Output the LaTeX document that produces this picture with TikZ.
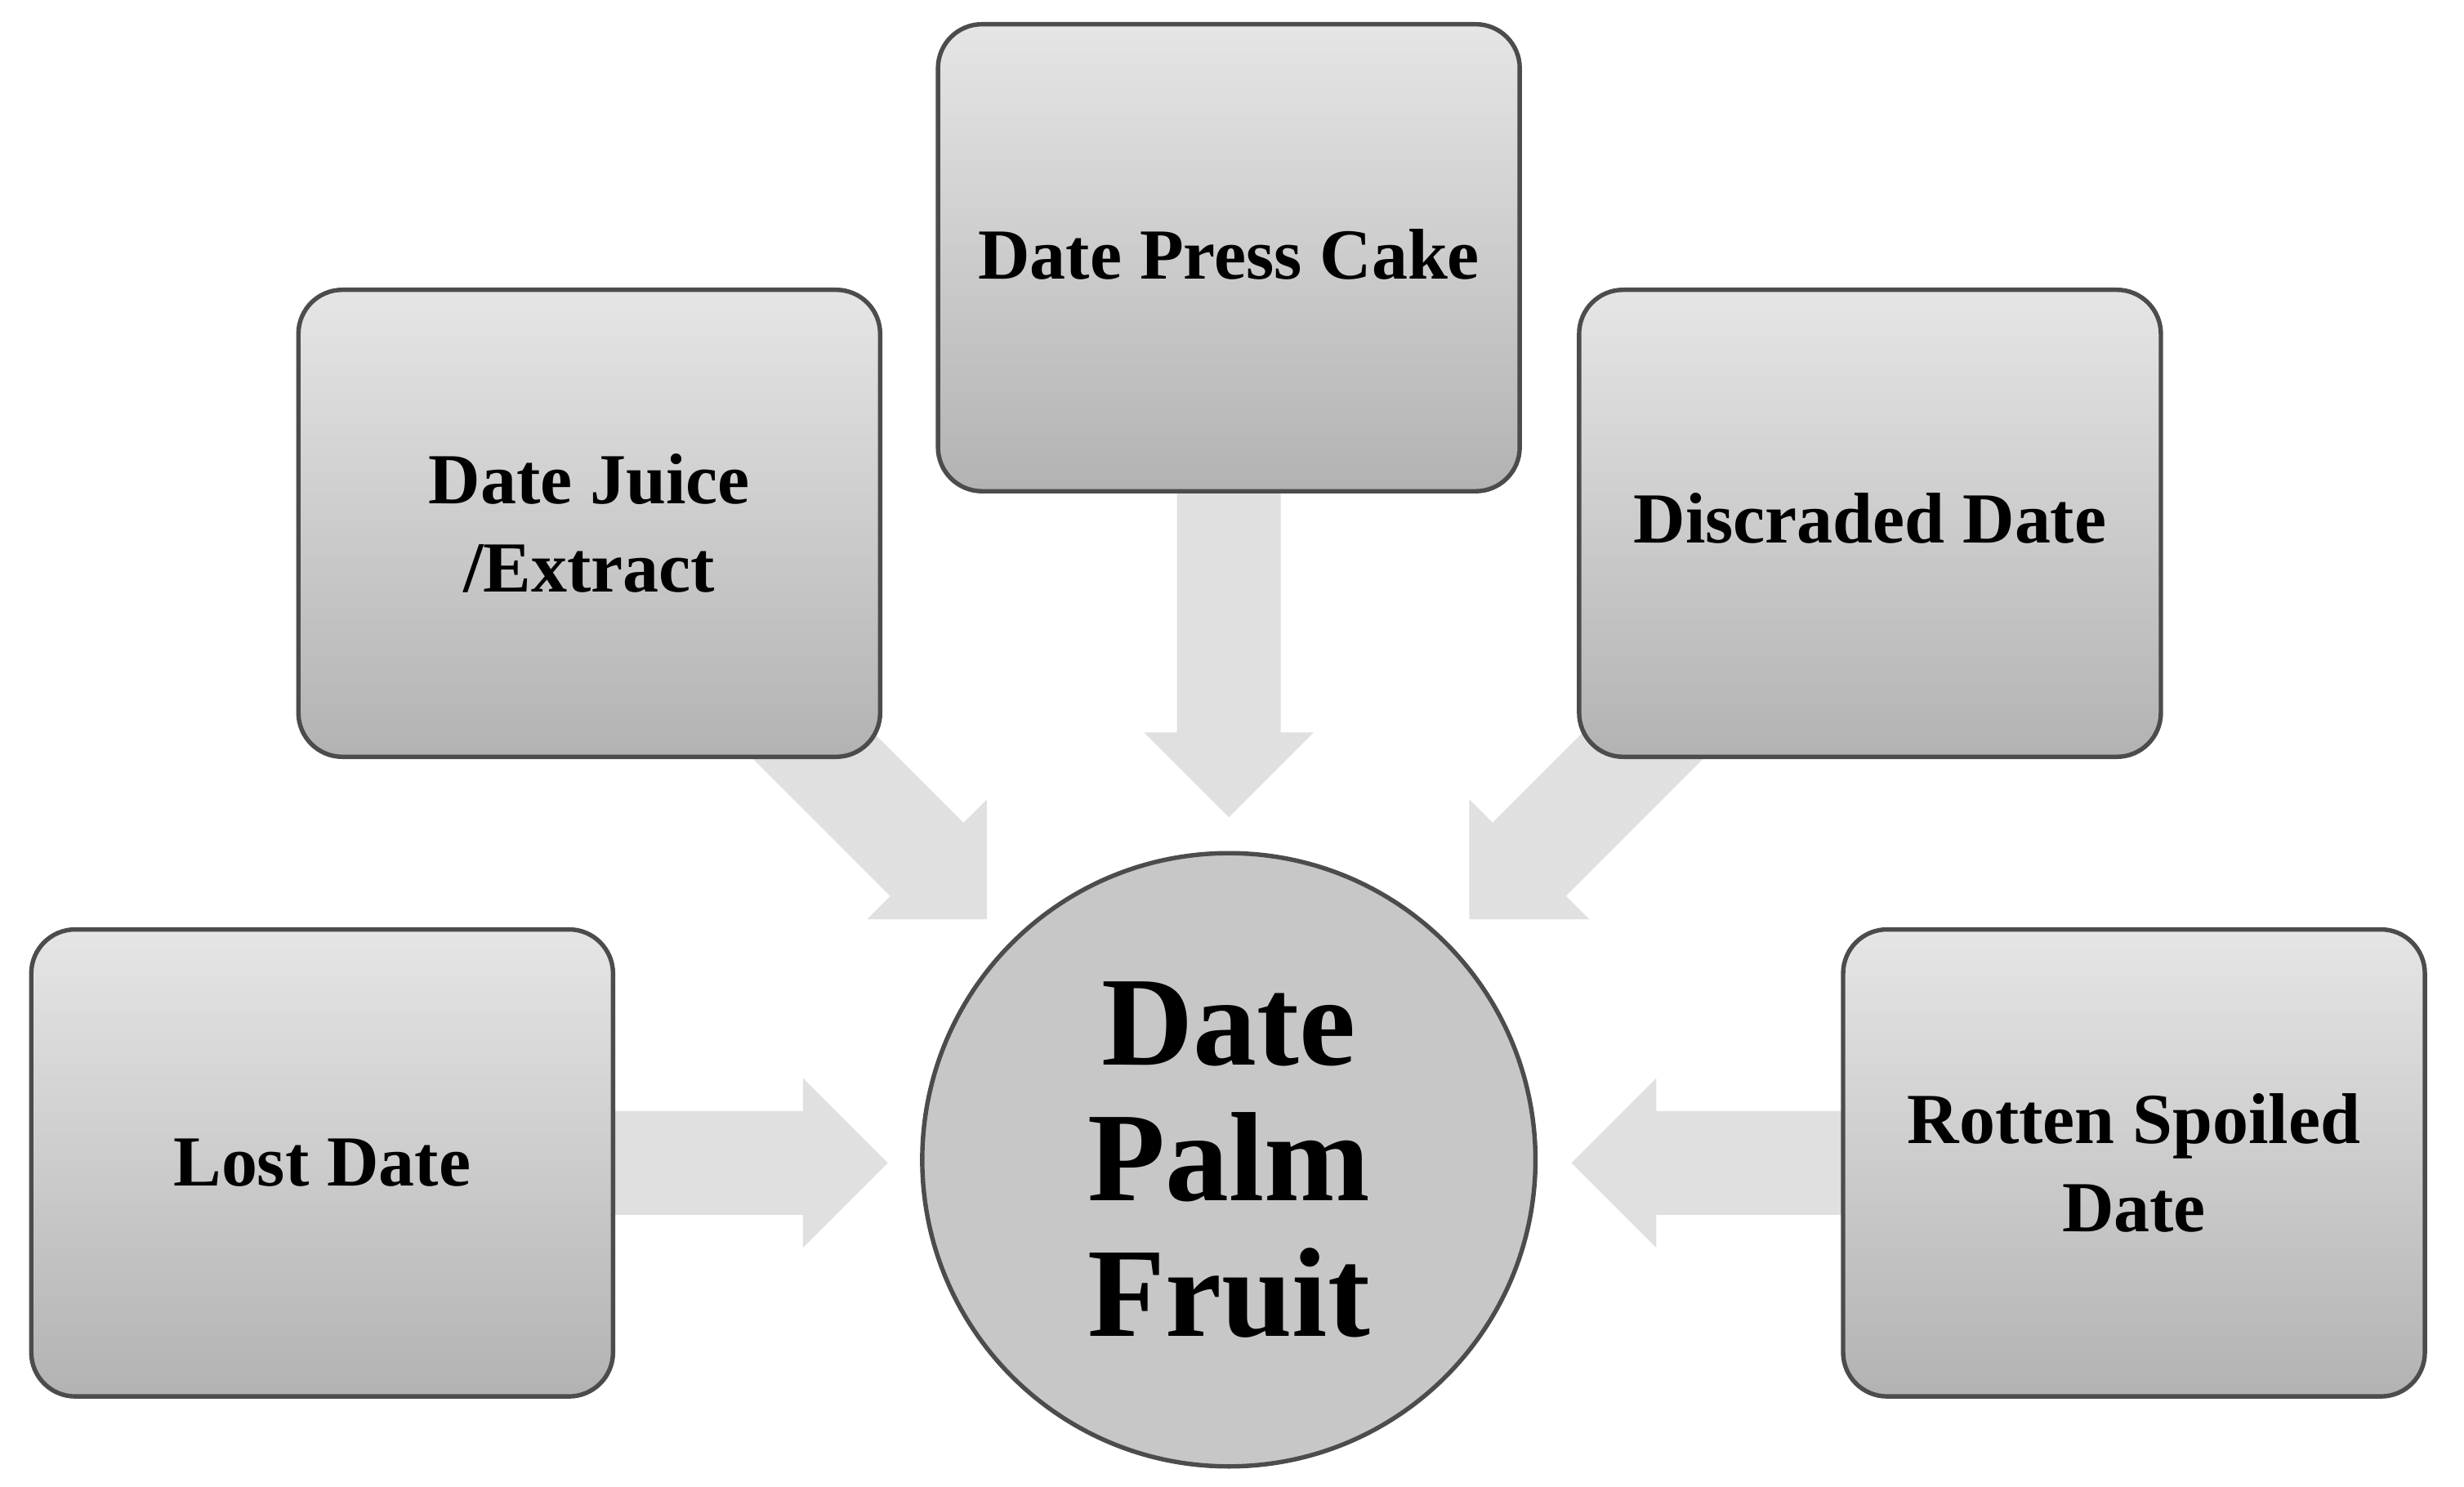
\documentclass[tikz,border=0pt]{standalone}
\usepackage{fontspec}
\setmainfont{Liberation Serif}
\begin{document}
\begin{tikzpicture}[x=0.01cm,y=-0.01cm,
  box/.style={draw=black!70,line width=0.8pt,rounded corners=0.28cm,top color=black!10,bottom color=black!30,minimum width=3.7cm,minimum height=2.97cm,inner sep=0pt},
  lab/.style={font=\bfseries\fontsize{13}{16}\selectfont,align=center},
  arr/.style={fill=black!12,draw=none}]
\useasboundingbox (0,0) rectangle (1568,946);
% block arrows (local frame: tip at origin, pointing +x)
\newcommand{\blockarrow}[4]{% tip x, tip y, rotation, shaft length
  \begin{scope}[shift={(#1,#2)},rotate=#3]
  \fill[arr] (0,0) -- (-54,54) -- (-54,33) -- (-#4,33) -- (-#4,-33) -- (-54,-33) -- (-54,-54) -- cycle;
  \end{scope}}
\blockarrow{782}{520}{-90}{220}
\blockarrow{565}{740}{0}{200}
\blockarrow{1000}{740}{180}{200}
\blockarrow{628}{585}{-45}{190}
\blockarrow{935}{585}{-135}{190}
\node[box] (juice) at (375,333) {};
\node[box] (cake) at (782,164) {};
\node[box] (disc) at (1190,333) {};
\node[box] (lost) at (205,740) {};
\node[box] (rot) at (1358,740) {};
\node[lab] at (375,333) {Date Juice\\/Extract};
\node[lab] at (782,162) {Date Press Cake};
\node[lab] at (1190,330) {Discraded Date};
\node[lab] at (205,740) {Lost Date};
\node[lab] at (1358,740) {Rotten Spoiled\\Date};
\node[circle,draw=black!70,line width=0.8pt,fill=black!22,minimum size=3.9cm,inner sep=0pt] (fruit) at (782,738) {};
\node[font=\bfseries\fontsize{23}{24.5}\selectfont,align=center] at (782,738) {Date\\Palm\\Fruit};
\end{tikzpicture}
\end{document}
